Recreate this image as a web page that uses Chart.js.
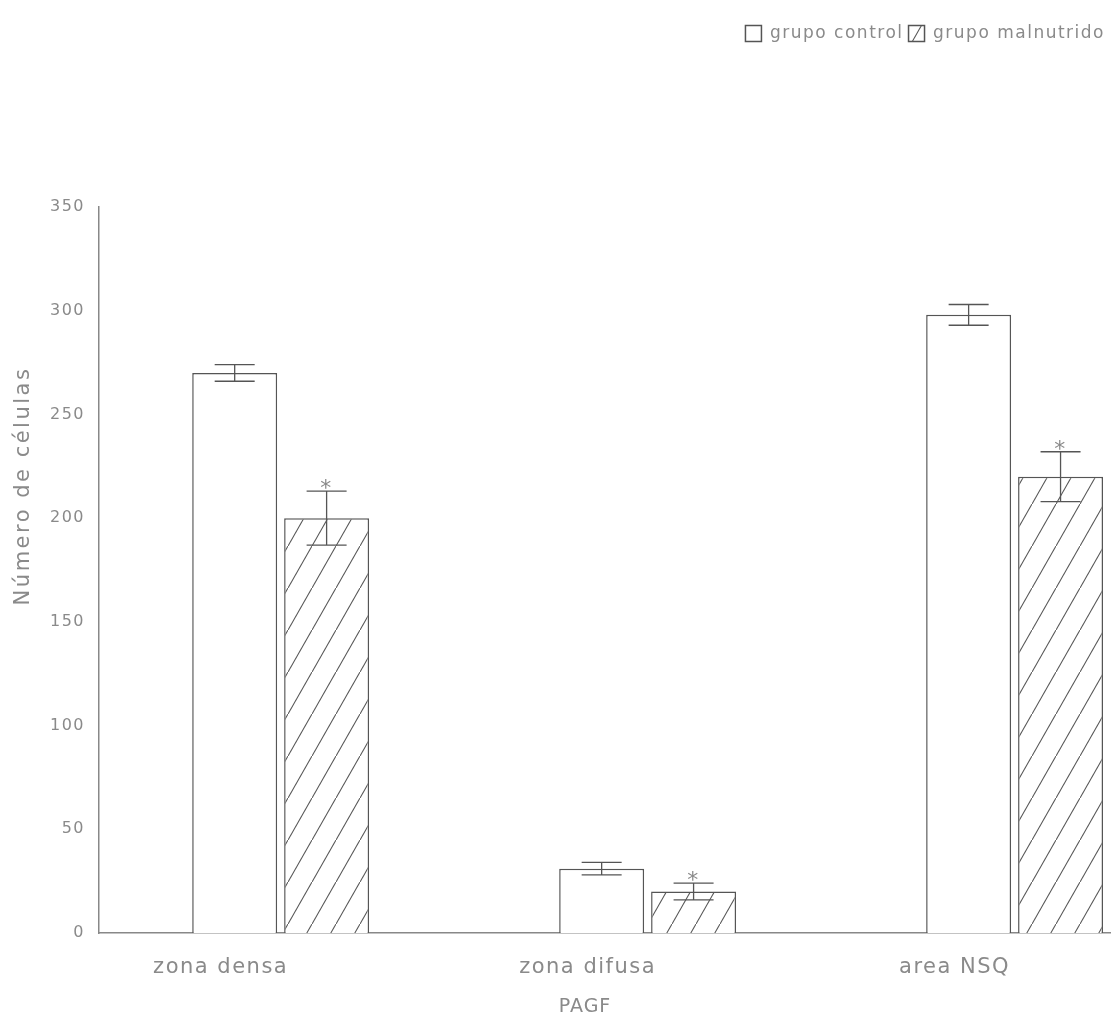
<!DOCTYPE html>
<html>
<head>
<meta charset="utf-8">
<script src="https://cdn.jsdelivr.net/npm/chart.js@4"></script>
<style>
  html, body { margin: 0; padding: 0; background: #fff; overflow: hidden; }
</style>
</head>
<body>
<canvas id="chart" width="1118" height="1028"></canvas>
<script>
// Data
const categories = ['zona densa', 'zona difusa', 'area NSQ'];
const seriesNames = ['grupo control', 'grupo malnutrido'];
const controlValues = [270, 31, 298];
const controlErrors = [4, 3, 5];
const malnutridoValues = [200, 20, 220];
const malnutridoErrors = [13, 4, 12];
const malnutridoStars = [true, true, true];
const yTickValues = [0, 50, 100, 150, 200, 250, 300, 350];

const textColor = '#8a8a8a';
const fontFamily = '"DejaVu Sans", sans-serif';

// diagonal hatch for the malnutrido bars
function makeHatch() {
    const c = document.createElement('canvas');
    c.width = 24; c.height = 42;
    const g = c.getContext('2d');
    g.fillStyle = '#fff';
    g.fillRect(0, 0, 24, 42);
    g.strokeStyle = '#555';
    g.lineWidth = 1.1;
    g.beginPath();
    g.moveTo(-12, 63);
    g.lineTo(36, -21);
    g.stroke();
    return g.createPattern(c, 'repeat');
}
const hatch = makeHatch();

// --- PLUGINS ---
const spacing = {
    id: 'spacing',
    beforeUpdate(chart) { chart.ctx.letterSpacing = '1.5px'; },
    beforeDraw(chart) { chart.ctx.letterSpacing = '1.5px'; }
};

const errorBars = {
    id: 'errorBars',
    afterDatasetsDraw(chart) {
        const ctx = chart.ctx;
        const y = chart.scales.y;
        chart.data.datasets.forEach((ds, di) => {
            const meta = chart.getDatasetMeta(di);
            meta.data.forEach((bar, i) => {
                const v = ds.data[i].y, e = ds.errors[i];
                const top = y.getPixelForValue(v + e);
                const bot = y.getPixelForValue(v - e);
                ctx.save();
                ctx.strokeStyle = '#555';
                ctx.lineWidth = 1.3;
                ctx.beginPath();
                ctx.moveTo(bar.x, top); ctx.lineTo(bar.x, bot);
                ctx.moveTo(bar.x - 20, top); ctx.lineTo(bar.x + 20, top);
                ctx.moveTo(bar.x - 20, bot); ctx.lineTo(bar.x + 20, bot);
                ctx.stroke();
                if (ds.stars && ds.stars[i]) {
                    ctx.fillStyle = textColor;
                    ctx.font = '22px ' + fontFamily;
                    ctx.textAlign = 'center';
                    ctx.textBaseline = 'alphabetic';
                    ctx.fillText('*', bar.x, top + 4);
                }
                ctx.restore();
            });
        });
    }
};

// axis titles sit off-centre in the original, so draw them by hand
const axisTitles = {
    id: 'axisTitles',
    afterDraw(chart) {
        const ctx = chart.ctx;
        ctx.save();
        ctx.fillStyle = textColor;
        ctx.textAlign = 'center';
        ctx.textBaseline = 'middle';
        ctx.letterSpacing = '1px';
        ctx.font = '19px ' + fontFamily;
        ctx.fillText('PAGF', 585, 1007);
        ctx.letterSpacing = '2.5px';
        ctx.translate(24, 486);
        ctx.rotate(-Math.PI / 2);
        ctx.font = '21px ' + fontFamily;
        ctx.fillText('Número de células', 0, 0);
        ctx.restore();
    }
};

// make room between legend and plot
const legendGap = {
    id: 'legendGap',
    beforeInit(chart) {
        const fit = chart.legend.fit;
        chart.legend.fit = function () {
            fit.call(this);
            this.height = 187;
        };
    }
};

new Chart(document.getElementById('chart'), {
    type: 'bar',
    data: {
        datasets: [
            {
                label: seriesNames[0],
                data: controlValues.map((v, i) => ({ x: i, y: v })),
                errors: controlErrors,
                backgroundColor: '#fff',
                borderColor: '#555',
                borderWidth: 1.5
            },
            {
                label: seriesNames[1],
                data: malnutridoValues.map((v, i) => ({ x: i, y: v })),
                errors: malnutridoErrors,
                stars: malnutridoStars,
                backgroundColor: hatch,
                borderColor: '#555',
                borderWidth: 1.5
            }
        ]
    },
    options: {
        responsive: false,
        animation: false,
        categoryPercentage: 0.501,
        barPercentage: 0.924,
        layout: { padding: { top: 20, left: 0, right: 8, bottom: 6 } },
        plugins: {
            tooltip: { enabled: false },
            legend: {
                position: 'top',
                align: 'end',
                labels: {
                    color: textColor,
                    font: { family: fontFamily, size: 17 },
                    boxWidth: 16,
                    boxHeight: 16,
                    padding: 5
                }
            }
        },
        scales: {
            x: {
                type: 'linear',
                offset: false,
                min: -0.495,
                max: 2.26,
                grid: { display: false, drawTicks: false, offset: false },
                border: { display: true, color: '#888', width: 1.5 },
                afterBuildTicks(scale) {
                    scale.ticks = categories.map((c, i) => ({ value: i }));
                },
                afterFit(scale) { scale.height = 89; },
                ticks: {
                    color: textColor,
                    font: { family: fontFamily, size: 21 },
                    padding: 22,
                    labelOffset: -60,
                    callback: (v) => categories[v]
                }
            },
            y: {
                min: 0,
                max: 350,
                grid: { display: false, drawTicks: false },
                border: { display: true, color: '#888', width: 1.5 },
                afterBuildTicks(scale) {
                    scale.ticks = yTickValues.map(v => ({ value: v }));
                },
                afterFit(scale) { scale.width = 99; },
                ticks: {
                    color: textColor,
                    font: { family: fontFamily, size: 16 },
                    padding: 14
                }
            }
        }
    },
    plugins: [spacing, errorBars, axisTitles, legendGap]
});
</script>
</body>
</html>
